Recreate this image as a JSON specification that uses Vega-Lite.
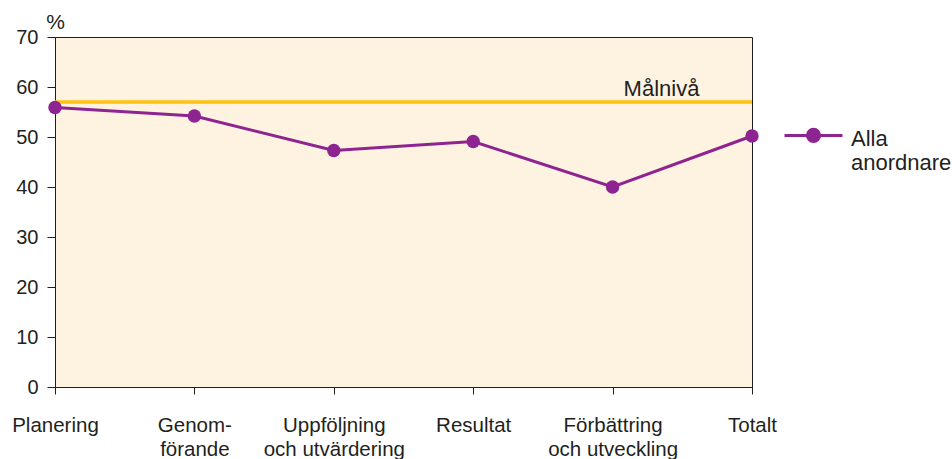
{
  "$schema": "https://vega.github.io/schema/vega-lite/v6.json",
  "autosize": "none",
  "width": 697,
  "height": 350,
  "padding": {"left": 55, "top": 37, "right": 200, "bottom": 72},
  "background": "#ffffff",
  "config": {
    "font": "Liberation Sans",
    "view": {"fill": "#FEF3E0", "stroke": "#231F20", "strokeWidth": 1}
  },
  "datasets": {
    "main": [
      {"omrade": "Planering", "serie": "Alla anordnare", "varde": 55.9},
      {"omrade": "Genom-|förande", "serie": "Alla anordnare", "varde": 54.2},
      {"omrade": "Uppföljning|och utvärdering", "serie": "Alla anordnare", "varde": 47.3},
      {"omrade": "Resultat", "serie": "Alla anordnare", "varde": 49.1},
      {"omrade": "Förbättring|och utveckling", "serie": "Alla anordnare", "varde": 40.0},
      {"omrade": "Totalt", "serie": "Alla anordnare", "varde": 50.2}
    ],
    "mal": [
      {"omrade": "Förbättring|och utveckling", "varde": 57, "text": "Målnivå"}
    ]
  },
  "encoding": {
    "x": {
      "field": "omrade",
      "type": "nominal",
      "sort": null,
      "scale": {
        "type": "point",
        "padding": 0,
        "domain": ["Planering", "Genom-|förande", "Uppföljning|och utvärdering", "Resultat", "Förbättring|och utveckling", "Totalt"]
      },
      "axis": {
        "title": null,
        "labelExpr": "split(datum.value, '|')",
        "labelAngle": 0,
        "labelFontSize": 20.5,
        "labelColor": "#231F20",
        "labelLineHeight": 24,
        "labelPadding": 21,
        "labelBaseline": "top",
        "tickSize": 7,
        "tickColor": "#231F20",
        "domainColor": "#231F20",
        "grid": false
      }
    },
    "y": {
      "field": "varde",
      "type": "quantitative",
      "scale": {"domain": [0, 70], "nice": false, "zero": true},
      "axis": {
        "values": [0, 10, 20, 30, 40, 50, 60, 70],
        "grid": false,
        "title": "%",
        "titleAngle": 0,
        "titleFontSize": 21,
        "titleFontWeight": "normal",
        "titleColor": "#231F20",
        "titleAlign": "center",
        "titleBaseline": "alphabetic",
        "titleX": 0,
        "titleY": -9,
        "labelFontSize": 20,
        "labelColor": "#231F20",
        "labelPadding": 9,
        "tickSize": 8,
        "tickColor": "#231F20",
        "domainColor": "#231F20"
      }
    }
  },
  "layer": [
    {
      "data": {"name": "mal"},
      "mark": {"type": "rule", "color": "#FFC20E", "strokeWidth": 3.5},
      "encoding": {"y": {"field": "varde", "type": "quantitative"}, "x": null}
    },
    {
      "data": {"name": "mal"},
      "mark": {"type": "text", "align": "left", "baseline": "alphabetic", "dx": 11, "dy": -6, "fontSize": 22, "color": "#231F20"},
      "encoding": {"text": {"field": "text"}}
    },
    {
      "data": {"name": "main"},
      "mark": {"type": "line", "strokeWidth": 3, "point": {"filled": true, "size": 180, "opacity": 1}},
      "encoding": {
        "color": {
          "field": "serie",
          "type": "nominal",
          "scale": {"range": ["#8E2491"]},
          "legend": {
            "title": null,
            "orient": "none",
            "legendX": 728,
            "legendY": 61,
            "padding": 0,
            "labelFontSize": 22,
            "labelColor": "#231F20",
            "labelOffset": 7,
            "labelBaseline": "top",
            "labelLineHeight": 26,
            "labelExpr": "split(datum.label, ' ')",
            "symbolSize": 3364,
            "encode": {
              "symbols": {
                "update": {
                  "shape": {"value": "M-1,0.24H1M0.21,0.24A0.21,0.21,0,1,1,-0.21,0.24A0.21,0.21,0,1,1,0.21,0.24Z"},
                  "fill": {"value": "#8E2491"},
                  "stroke": {"value": "#8E2491"},
                  "strokeWidth": {"value": 3},
                  "size": {"value": 3364},
                  "opacity": {"value": 1}
                }
              }
            }
          }
        }
      }
    }
  ]
}
